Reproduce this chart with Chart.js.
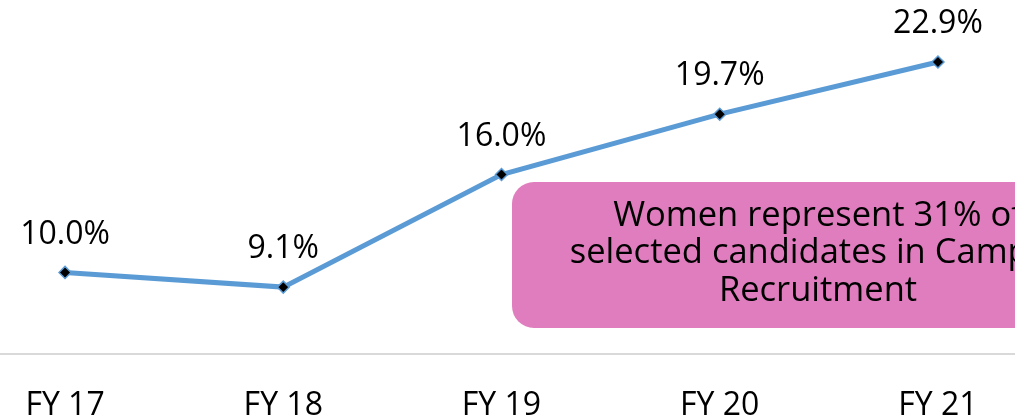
<!DOCTYPE html>
<html>
<head>
<meta charset="utf-8">
<script src="https://cdn.jsdelivr.net/npm/chart.js@4"></script>
<style>
  html, body { margin: 0; padding: 0; background: #ffffff; }
  #wrap { width: 1015px; height: 416px; position: relative; }
</style>
</head>
<body>
<div id="wrap"><canvas id="c" width="1015" height="416"></canvas></div>
<script>
const categories = ['FY 17', 'FY 18', 'FY 19', 'FY 20', 'FY 21'];
const womenShare = [10.0, 9.1, 16.0, 19.7, 22.9];
const calloutLines = ['Women represent 31% of', 'selected candidates in Campus', 'Recruitment'];

const FONT = '"Open Sans", "Noto Sans", sans-serif';

const labelPlugin = {
  id: 'valueLabels',
  afterDatasetsDraw(chart) {
    const ctx = chart.ctx;
    const meta = chart.getDatasetMeta(0);
    ctx.save();
    ctx.font = '32px ' + FONT;
    ctx.fillStyle = '#000000';
    ctx.textAlign = 'center';
    ctx.textBaseline = 'middle';
    meta.data.forEach((pt, i) => {
      ctx.fillText(womenShare[i].toFixed(1) + '%', pt.x, pt.y - 38);
    });
    ctx.restore();
  }
};

const calloutPlugin = {
  id: 'callout',
  afterDraw(chart) {
    const ctx = chart.ctx;
    const x = 512, y = 182, w = 612, h = 146, r = 22;
    ctx.save();
    ctx.beginPath();
    ctx.roundRect(x, y, w, h, r);
    ctx.fillStyle = '#e07dbe';
    ctx.fill();
    ctx.font = '34.5px ' + FONT;
    ctx.fillStyle = '#000000';
    ctx.textAlign = 'center';
    ctx.textBaseline = 'middle';
    const cx = 818;
    calloutLines.forEach((line, i) => {
      ctx.fillText(line, cx, 216 + i * 37.5);
    });
    ctx.restore();
  }
};

new Chart(document.getElementById('c'), {
  type: 'line',
  data: {
    datasets: [{
      data: womenShare.map((v, i) => ({ x: i, y: v })),
      borderColor: '#5b9bd5',
      borderWidth: 5,
      pointStyle: 'rectRot',
      pointRadius: 6,
      pointBackgroundColor: '#000000',
      pointBorderColor: '#5b9bd5',
      pointBorderWidth: 1.5,
      tension: 0,
      fill: false,
      clip: false
    }]
  },
  options: {
    responsive: false,
    animation: false,
    layout: { padding: 0, autoPadding: false },
    plugins: { legend: { display: false }, tooltip: { enabled: false } },
    scales: {
      x: {
        type: 'linear',
        min: -0.298,
        max: 4.353,
        grid: { display: false, drawTicks: false },
        border: { display: true, color: '#d9d9d9', width: 2 },
        afterBuildTicks(scale) { scale.ticks = categories.map((c, i) => ({ value: i })); },
        afterFit(scale) { scale.height = 62; scale.paddingLeft = 0; scale.paddingRight = 0; },
        ticks: {
          autoSkip: false,
          maxRotation: 0,
          padding: 36,
          color: '#000000',
          font: { family: FONT, size: 32, lineHeight: 1 },
          callback: (v) => categories[v] ?? ''
        }
      },
      y: {
        display: false,
        min: 5,
        max: 26.7
      }
    }
  },
  plugins: [labelPlugin, calloutPlugin]
});
</script>
</body>
</html>
